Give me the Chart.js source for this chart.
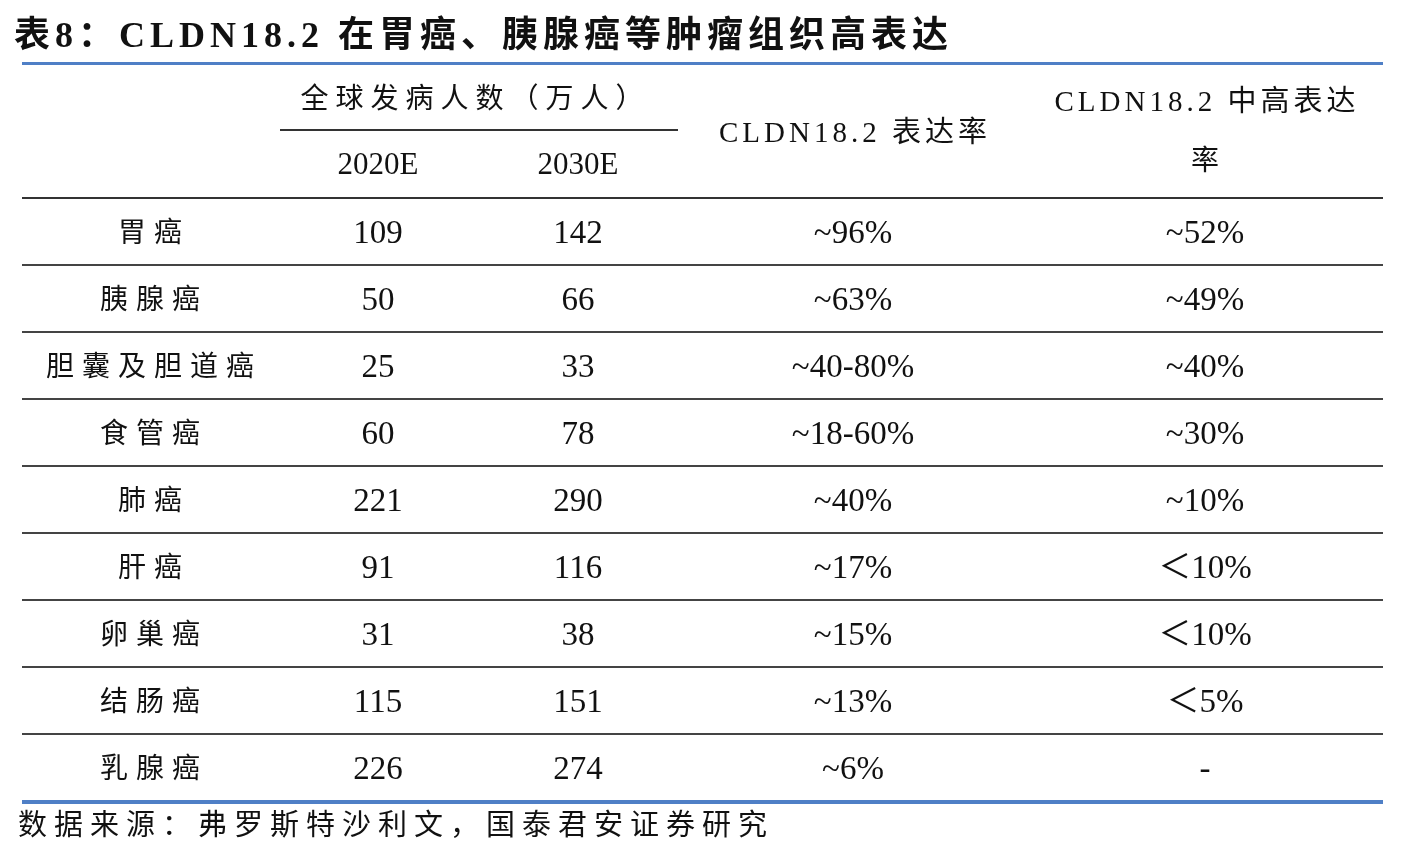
<!DOCTYPE html>
<html><head><meta charset="utf-8">
<script src="https://cdn.jsdelivr.net/npm/chart.js@4/dist/chart.umd.min.js"></script>
<style>html,body{margin:0;padding:0;background:#fff}#w{width:1405px;height:867px}</style>
</head><body><div id="w"><canvas id="c"></canvas></div>
<script>
const title = "表8：CLDN18.2 在胃癌、胰腺癌等肿瘤组织高表达";
const source = "数据来源：弗罗斯特沙利文，国泰君安证券研究";
const cancers = ["胃癌","胰腺癌","胆囊及胆道癌","食管癌","肺癌","肝癌","卵巢癌","结肠癌","乳腺癌"];
const inc2020 = [109,50,25,60,221,91,31,115,226];
const inc2030 = [142,66,33,78,290,116,38,151,274];
const exprRate = ["~96%","~63%","~40-80%","~18-60%","~40%","~17%","~15%","~13%","~6%"];
const highRate = ["~52%","~49%","~40%","~30%","~10%","＜10%","＜10%","＜5%","-"];
const headers = ["全球发病人数（万人）","2020E","2030E","CLDN18.2 表达率","CLDN18.2 中高表达","率"];

const SERIF = '"Liberation Serif","Noto Sans CJK SC",serif';
const colX = [150,378,578,853,1205];

function txt(ctx,s,x,y,font,sp){
  ctx.font=font; ctx.letterSpacing=(sp||0)+'px';
  // compensate trailing spacing for centred text
  const dx = (ctx.textAlign==='center')? (sp||0)/2 : 0;
  ctx.fillText(s,x+dx,y);
  ctx.letterSpacing='0px';
}

const tablePlugin = {
  id:'table',
  afterDraw(chart){
    const ctx = chart.ctx, ys = chart.scales.y, a = chart.chartArea;
    ctx.save();
    ctx.fillStyle='#111'; ctx.textBaseline='middle';
    ctx.textAlign='left';
    txt(ctx,title,14,38,'bold 36px '+SERIF,5);
    ctx.fillStyle='#4f7fc6';
    ctx.fillRect(22,62,1361,3);
    ctx.fillRect(22,a.bottom-1,1361,4);
    ctx.fillStyle='#111'; ctx.textAlign='center';
    txt(ctx,headers[0],472,101,'28px '+SERIF,7);
    txt(ctx,headers[1],colX[1],166,'31px '+SERIF,0);
    txt(ctx,headers[2],colX[2],166,'31px '+SERIF,0);
    txt(ctx,headers[3],colX[3],134,'29px '+SERIF,4);
    txt(ctx,headers[4],colX[4],103,'29px '+SERIF,4);
    txt(ctx,headers[5],colX[4],163,'28px '+SERIF,0);
    ctx.fillStyle='#333';
    ctx.fillRect(280,129,398,2);
    ctx.fillRect(22,a.top-1,1361,2);
    const step = (a.bottom-a.top)/cancers.length;
    cancers.forEach((c,i)=>{
      const y = ys.getPixelForValue(i);
      if(i>0){ctx.fillStyle='#444';ctx.fillRect(22,y-step/2-1,1361,2);}
      ctx.fillStyle='#111';
      txt(ctx,c,colX[0],y+3,'28px '+SERIF,8);
      const f='33px '+SERIF;
      txt(ctx,String(inc2020[i]),colX[1],y+3,f,0);
      txt(ctx,String(inc2030[i]),colX[2],y+3,f,0);
      txt(ctx,exprRate[i],colX[3],y+3,f,0);
      txt(ctx,highRate[i],colX[4],y+3,f,0);
    });
    ctx.textAlign='left';
    txt(ctx,source,18,827,'29px '+SERIF,7);
    ctx.restore();
  }
};

new Chart(document.getElementById('c'),{
  type:'bar',
  data:{labels:cancers,datasets:[{data:inc2020.map(()=>null)}]},
  options:{
    responsive:true,maintainAspectRatio:false,animation:false,indexAxis:'y',
    layout:{padding:{top:198,bottom:66,left:22,right:22}},
    plugins:{legend:{display:false},tooltip:{enabled:false}},
    scales:{y:{type:'category',display:false,offset:true},x:{display:false,min:0,max:1}}
  },
  plugins:[tablePlugin]
});
</script></body></html>
